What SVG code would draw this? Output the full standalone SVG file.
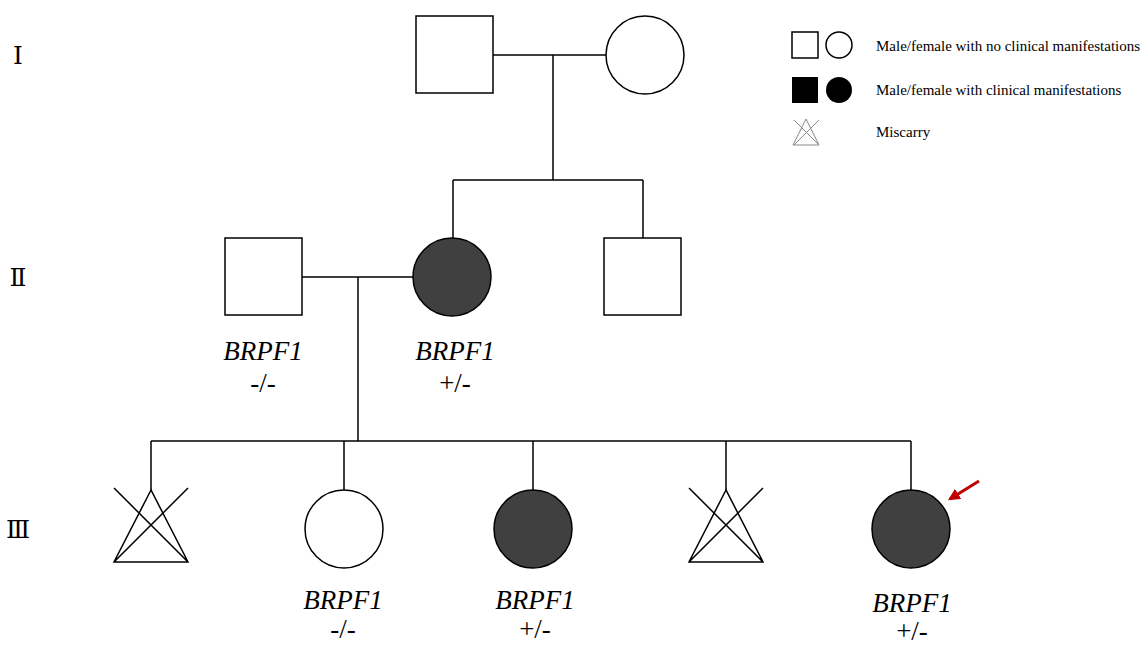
<svg xmlns="http://www.w3.org/2000/svg" width="1143" height="645" viewBox="0 0 1143 645">
<style>
.s{fill:#fff;stroke:#000;stroke-width:1.5}
.a{fill:#404040;stroke:#000;stroke-width:1.5}
.ln{fill:none;stroke:#000;stroke-width:1.5}
.g{font-family:"Liberation Serif","DejaVu Serif",serif;font-size:27px;font-style:italic;text-anchor:middle;fill:#000}
.z{font-family:"Liberation Serif","DejaVu Serif",serif;font-size:27px;text-anchor:middle;fill:#000}
.r{font-family:"DejaVu Serif","Liberation Serif",serif;font-size:25px;text-anchor:middle;fill:#000}
.lg{font-family:"Liberation Serif",serif;font-size:15px;fill:#000}
</style>
<defs>
<marker id="ah" viewBox="0 0 10 10" refX="8" refY="5" markerWidth="4" markerHeight="4" orient="auto"><path d="M0,0 L10,5 L0,10 z" fill="#c00000"/></marker>
</defs>
<rect width="1143" height="645" fill="#fff"/>
<g id="gen-labels">
<text class="r" x="18" y="64">Ⅰ</text>
<text class="r" x="18" y="286">Ⅱ</text>
<text class="r" x="18" y="538">Ⅲ</text>
</g>
<g id="connectors">
<path class="ln" d="M493,55 H606 M553,55 V180 M453,180 H643 M453,180 V238 M643,180 V238"/>
<path class="ln" d="M302,277 H413 M358,277 V441 M151,441 H911 M151,441 V490 M344,441 V490 M533,441 V490 M726,441 V490 M911,441 V490"/>
</g>
<g id="I-1"><rect class="s" x="416" y="16" width="77" height="77"/></g>
<g id="I-2"><circle class="s" cx="645" cy="55" r="39"/></g>
<g id="II-1"><rect class="s" x="225" y="238" width="77" height="77"/>
<text class="g" x="263" y="360">BRPF1</text><text class="z" x="263" y="392">-/-</text></g>
<g id="II-2"><circle class="a" cx="452" cy="277" r="39"/>
<text class="g" x="455" y="360">BRPF1</text><text class="z" x="455" y="392">+/-</text></g>
<g id="II-3"><rect class="s" x="604" y="238" width="77" height="77"/></g>
<g id="III-1"><path class="ln" d="M151,490 L114,562 H188 Z M114,488 L188,562 M188,488 L114,562"/></g>
<g id="III-2"><circle class="s" cx="344" cy="529" r="39"/>
<text class="g" x="343" y="609">BRPF1</text><text class="z" x="343" y="638">-/-</text></g>
<g id="III-3"><circle class="a" cx="533" cy="529" r="39"/>
<text class="g" x="535" y="609">BRPF1</text><text class="z" x="535" y="638">+/-</text></g>
<g id="III-4"><path class="ln" d="M726,490 L689,562 H763 Z M689,488 L763,562 M763,488 L689,562"/></g>
<g id="III-5"><circle class="a" cx="911" cy="529" r="39"/>
<text class="g" x="912" y="612">BRPF1</text><text class="z" x="912" y="640">+/-</text></g>
<g id="proband-arrow"><line x1="979" y1="481" x2="950" y2="499" stroke="#c00000" stroke-width="3" marker-end="url(#ah)"/></g>
<g id="legend">
<rect class="s" x="792" y="32" width="26" height="26"/>
<circle class="s" cx="839" cy="45" r="13"/>
<rect x="792" y="77" width="26" height="26" fill="#000"/>
<circle cx="839" cy="90" r="13" fill="#000"/>
<path d="M806,119 L793,145 H819 Z M794,120 L819,145 M819,120 L794,145" fill="none" stroke="#888" stroke-width="1"/>
<text class="lg" x="876" y="51">Male/female with no clinical manifestations</text>
<text class="lg" x="876" y="95">Male/female with clinical manifestations</text>
<text class="lg" x="876" y="137">Miscarry</text>
</g>
</svg>
